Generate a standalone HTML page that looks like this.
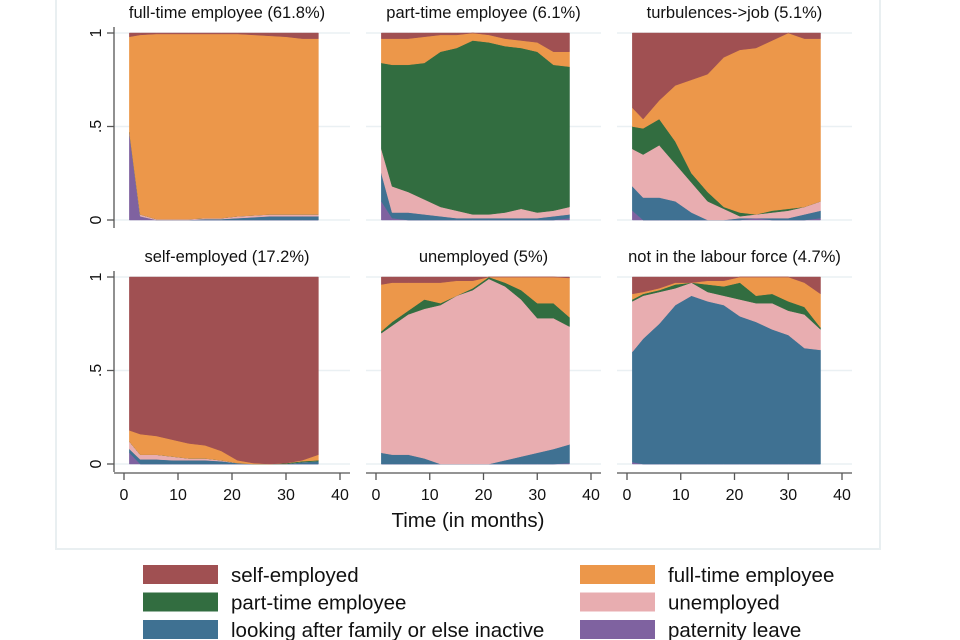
<!DOCTYPE html>
<html><head><meta charset="utf-8"><style>
body{margin:0;background:#fff;width:960px;height:640px;overflow:hidden;font-family:"Liberation Sans",sans-serif}
svg{display:block}
</style></head><body>
<svg id="chart" width="960" height="640">
<rect x="56" y="-5" width="824" height="554" fill="#fff" stroke="#e9eff1" stroke-width="2"/>
<g id="panels"></g>
<text x="468" y="527" text-anchor="middle" font-size="20.5" fill="#111">Time (in months)</text>
<g id="legend"></g>
</svg>
<script>
const times = [1,3,6,9,12,15,18,21,24,27,30,33,36];
const stateNames = ["paternity leave","looking after family or else inactive","unemployed","part-time employee","full-time employee","self-employed"];
const stateColors = ["#7f62a0","#3f7192","#e8adb0","#326d40","#ec974a","#a05052"];
const panelTitles = ["full-time employee (61.8%)","part-time employee (6.1%)","turbulences->job (5.1%)","self-employed (17.2%)","unemployed (5%)","not in the labour force (4.7%)"];
const xTicks = [0,10,20,30,40];
const yTicks = [0,0.5,1];
const yTickLabels = ["0",".5","1"];
const p1Purple=[0.47,0.02,0,0,0,0,0,0,0,0,0,0,0];
const p1Blue=[0,0,0,0,0,0.005,0.005,0.01,0.015,0.02,0.02,0.02,0.02];
const p1Pink=[0,0.01,0.005,0.005,0.005,0.005,0.005,0.01,0.01,0.01,0.01,0.01,0.01];
const p1Green=[0,0,0,0,0,0,0,0,0,0,0,0,0];
const p1Orange=[0.51,0.96,0.99,0.99,0.99,0.985,0.985,0.975,0.965,0.955,0.95,0.94,0.94];
const p1Red=[0.02,0.01,0.005,0.005,0.005,0.005,0.005,0.005,0.01,0.015,0.02,0.03,0.03];
const p2Purple=[0.1,0.01,0,0,0,0,0,0,0,0,0,0,0.01];
const p2Blue=[0.15,0.03,0.04,0.03,0.02,0.01,0.01,0.01,0.01,0.01,0.01,0.02,0.02];
const p2Pink=[0.13,0.14,0.11,0.08,0.05,0.04,0.02,0.02,0.03,0.05,0.03,0.03,0.04];
const p2Green=[0.46,0.65,0.68,0.73,0.83,0.87,0.93,0.92,0.89,0.86,0.86,0.78,0.75];
const p2Orange=[0.13,0.14,0.14,0.14,0.09,0.07,0.04,0.04,0.04,0.04,0.05,0.07,0.08];
const p2Red=[0.03,0.03,0.03,0.02,0.01,0.01,0,0.01,0.03,0.04,0.05,0.1,0.1];
const p3Purple=[0.05,0,0,0,0,0,0,0,0.01,0,0,0,0.01];
const p3Blue=[0.13,0.12,0.12,0.1,0.04,0,0,0.01,0,0.01,0.01,0.03,0.04];
const p3Pink=[0.2,0.23,0.28,0.2,0.16,0.1,0.06,0.01,0.02,0.03,0.04,0.04,0.05];
const p3Green=[0.12,0.14,0.14,0.12,0.05,0.05,0.01,0.02,0,0.01,0.01,0,0];
const p3Orange=[0.1,0.05,0.1,0.3,0.5,0.63,0.8,0.87,0.89,0.91,0.94,0.9,0.87];
const p3Red=[0.4,0.46,0.36,0.28,0.25,0.22,0.13,0.09,0.08,0.04,0,0.03,0.03];
const p4Purple=[0.06,0,0,0,0,0,0,0,0,0,0,0,0];
const p4Blue=[0.02,0.025,0.025,0.02,0.02,0.02,0.015,0.005,0,0,0,0.01,0.015];
const p4Pink=[0.04,0.025,0.025,0.02,0.01,0.01,0.005,0,0,0,0,0,0];
const p4Green=[0,0,0,0,0,0,0,0,0,0,0.005,0.005,0.005];
const p4Orange=[0.06,0.11,0.1,0.09,0.08,0.07,0.05,0.015,0.005,0,0,0.005,0.03];
const p4Red=[0.82,0.84,0.85,0.87,0.89,0.9,0.93,0.98,0.995,1,0.995,0.98,0.95];
const p5Purple=[0,0,0,0,0,0,0,0,0,0,0,0,0.005];
const p5Blue=[0.06,0.05,0.05,0.03,0,0,0,0,0.02,0.04,0.06,0.08,0.1];
const p5Pink=[0.64,0.69,0.75,0.8,0.85,0.9,0.93,0.99,0.93,0.84,0.72,0.7,0.63];
const p5Green=[0.01,0.02,0.02,0.05,0.01,0,0.01,0.01,0.02,0.05,0.08,0.08,0.05];
const p5Orange=[0.25,0.21,0.15,0.09,0.11,0.08,0.04,0,0.03,0.07,0.14,0.14,0.21];
const p5Red=[0.04,0.03,0.03,0.03,0.03,0.02,0.02,0,0,0,0,0,0.01];
const p6Purple=[0.01,0,0,0,0,0,0,0,0,0,0,0,0];
const p6Blue=[0.59,0.67,0.75,0.85,0.9,0.87,0.85,0.79,0.76,0.72,0.69,0.62,0.61];
const p6Pink=[0.27,0.23,0.17,0.09,0.07,0.05,0.05,0.09,0.1,0.14,0.13,0.18,0.11];
const p6Green=[0.01,0.01,0.01,0.02,0,0.04,0.05,0.09,0.04,0.05,0.05,0.04,0.01];
const p6Orange=[0.03,0.01,0.01,0.01,0,0.02,0.03,0.03,0.1,0.09,0.13,0.13,0.18];
const p6Red=[0.09,0.08,0.06,0.03,0.03,0.02,0.02,0,0,0,0,0.03,0.09];
const panelSeries=[
 [p1Purple,p1Blue,p1Pink,p1Green,p1Orange,p1Red],
 [p2Purple,p2Blue,p2Pink,p2Green,p2Orange,p2Red],
 [p3Purple,p3Blue,p3Pink,p3Green,p3Orange,p3Red],
 [p4Purple,p4Blue,p4Pink,p4Green,p4Orange,p4Red],
 [p5Purple,p5Blue,p5Pink,p5Green,p5Orange,p5Red],
 [p6Purple,p6Blue,p6Pink,p6Green,p6Orange,p6Red]];

const NS="http://www.w3.org/2000/svg";
const colX0=[124,376,627], colX40=[340,591,842];
const rowY1=[33,277], rowY0=[220,464];
function mk(tag,attrs,parent){const e=document.createElementNS(NS,tag);for(const k in attrs)e.setAttribute(k,attrs[k]);parent.appendChild(e);return e;}
const root=document.getElementById('panels');
for(let p=0;p<6;p++){
 const c=p%3,r=Math.floor(p/3);
 const xs=t=>colX0[c]+(colX40[c]-colX0[c])*t/40;
 const ys=v=>rowY0[r]+(rowY1[r]-rowY0[r])*v;
 const g=mk('g',{},root);
 
 
 yTicks.forEach(v=>{const l=mk('line',{x1:xs(0)-10,x2:xs(40)+10,y1:ys(v),y2:ys(v),stroke:'#eaf0f3','stroke-width':1.5},g);
  });
 const series=panelSeries[p];
 let lower=times.map(()=>0);
 series.forEach((vals,s)=>{
  const upper=lower.map((v,i)=>Math.min(1,v+vals[i]));
  let pts=times.map((t,i)=>xs(t)+','+ys(upper[i]));
  for(let i=times.length-1;i>=0;i--)pts.push(xs(times[i])+','+ys(lower[i]));
  const poly=mk('polygon',{points:pts.join(' '),fill:stateColors[s],stroke:stateColors[s],'stroke-width':0.5},g);
  
  
  lower=upper;
 });
 const tt=mk('text',{x:(xs(0)+xs(40))/2+(c==0?-5:0),y:rowY1[r]-15,'text-anchor':'middle','font-size':16.5,fill:'#111'},g);
 tt.textContent=panelTitles[p];
 
 
 if(c==0){
  const ax=mk('line',{x1:114,x2:114,y1:ys(1)-6,y2:ys(0)+8,stroke:'#555','stroke-width':1.3},g);
  
  yTicks.forEach((v,i)=>{mk('line',{x1:107,x2:114,y1:ys(v),y2:ys(v),stroke:'#555','stroke-width':1.3},g);
   const tl=mk('text',{x:0,y:0,transform:`translate(101,${ys(v)}) rotate(-90)`,'text-anchor':'middle','font-size':16,fill:'#111'},g);
   tl.textContent=yTickLabels[i];
   
   });
 }
 if(r==1){
  const ax=mk('line',{x1:xs(0)-10,x2:xs(40)+10,y1:473,y2:473,stroke:'#555','stroke-width':1.3},g);
  
  xTicks.forEach(t=>{mk('line',{x1:xs(t),x2:xs(t),y1:473,y2:480,stroke:'#555','stroke-width':1.3},g);
   const tl=mk('text',{x:xs(t),y:500,'text-anchor':'middle','font-size':16,fill:'#111'},g);
   tl.textContent=t;
   
   });
 }
}
const legendOrder=[5,4,3,2,1,0];
const lg=document.getElementById('legend');
legendOrder.forEach((s,i)=>{
 const col=i%2,row=Math.floor(i/2);
 const x=col?580:143,y=565+row*27.5;
 const sw=mk('rect',{x:x,y:y,width:75,height:19,fill:stateColors[s]},lg);
 
 
 const tx=mk('text',{x:x+88,y:y+17,'font-size':20.5,fill:'#111'},lg);
 tx.textContent=stateNames[s];
 
 
});
</script>
</body></html>
